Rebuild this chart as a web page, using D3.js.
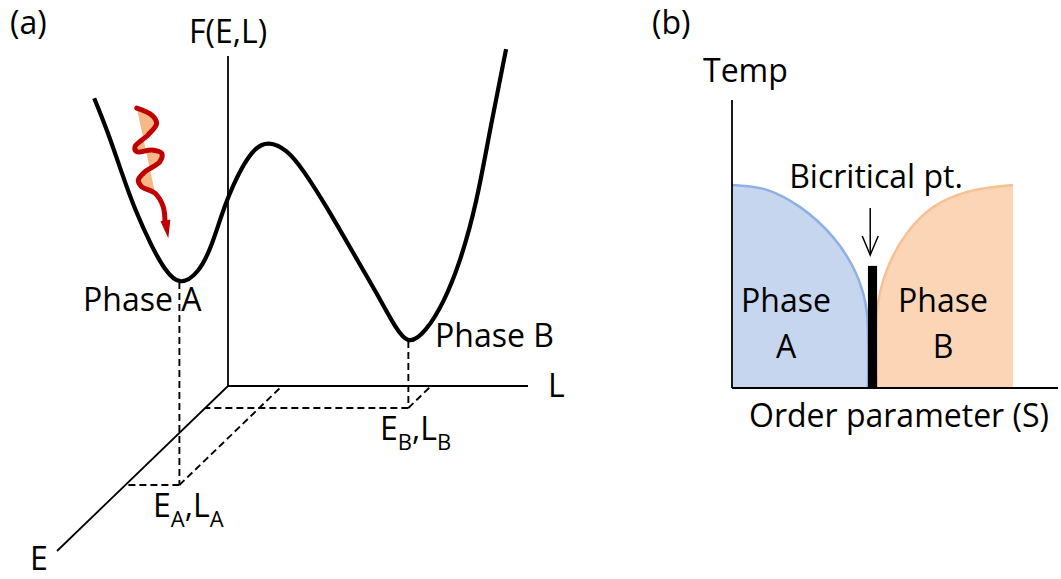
<!DOCTYPE html>
<html>
<head>
<meta charset="utf-8">
<script src="https://cdn.jsdelivr.net/npm/d3@7"></script>
<style>
  body { margin: 0; background: #fff; }
  text { font-family: "Open Sans", sans-serif; font-size: 32px; fill: #000; }
</style>
</head>
<body>
<div id="chart"></div>
<script>
// ---- panel (a): free energy F(E,L) sketch ----
// curve drawn in the E = 0 plane, values in (L, F) units
const curveL = [-4.46, -3.99, -3.54, -3.10, -2.54, -2.10, -1.62, -0.99, -0.54, -0.10, 0.46, 0.90, 1.34, 1.96, 2.51, 3.29, 4.18, 4.96, 5.51, 6.01, 6.62, 7.18, 7.73, 8.29, 8.73, 9.27];
const curveF = [8.72, 7.66, 6.45, 5.33, 4.22, 3.50, 3.04, 3.40, 4.22, 5.54, 6.65, 7.22, 7.42, 7.17, 6.55, 5.43, 4.02, 2.81, 1.88, 1.20, 1.68, 2.51, 3.72, 5.54, 7.76, 10.21];

// the two minima in (E, L, F)
const phaseNames = ["A", "B"];
const phaseE = [6.0, 1.33];
const phaseL = [1.8, 6.77];
const phaseF = [6.15, 2.03];

// red "kick" squiggle, (L, F) units
const kickL = [-3.04, -2.54, -2.38, -2.66, -3.10, -3.04, -2.54, -2.21, -2.27, -2.77, -2.99, -2.88, -2.43, -2.16, -2.10];
const kickF = [8.42, 8.21, 7.96, 7.61, 7.25, 7.10, 7.15, 7.05, 6.80, 6.49, 6.24, 6.04, 5.84, 5.43, 4.93];
const kickTip = [-1.99, 4.48];

// ---- panel (b): phase diagram, order parameter S vs temperature ----
const phaseAS = [0, 0.107, 0.209, 0.310, 0.371, 0.402, 0.414, 0.417];
const phaseAT = [0.705, 0.688, 0.628, 0.524, 0.420, 0.330, 0.260, 0];
const phaseBS = [0.445, 0.445, 0.475, 0.537, 0.617, 0.721, 0.862];
const phaseBT = [0, 0.271, 0.410, 0.538, 0.628, 0.681, 0.705];
const bicritS = [0.417, 0.445];
const bicritT = 0.424;
const arrowS = 0.424;
const arrowT = [0.625, 0.462];

const W = 1061, H = 579;
const svg = d3.select("#chart").append("svg")
    .attr("width", W).attr("height", H);

// oblique projection of (E, L, F)
const origin = [228, 386];
const sL = d3.scaleLinear().domain([0, 10]).range([0, 300]);
const sF = d3.scaleLinear().domain([0, 10]).range([0, -330]);
const sEx = d3.scaleLinear().domain([0, 10]).range([0, -171]);
const sEy = d3.scaleLinear().domain([0, 10]).range([0, 165]);
function project(E, L, F) {
    return [origin[0] + sL(L) + sEx(E), origin[1] + sF(F) + sEy(E)];
}

const a = svg.append("g");

// axes
[[10, 0, 0], [0, 10, 0], [0, 0, 10]].forEach(p => {
    const o = project(0, 0, 0), e = project(...p);
    a.append("line")
        .attr("x1", o[0]).attr("y1", o[1]).attr("x2", e[0]).attr("y2", e[1])
        .attr("stroke", "#000").attr("stroke-width", 1.8);
});

// dashed guides down to the E-L plane
phaseNames.forEach((n, i) => {
    const top = project(phaseE[i], phaseL[i], phaseF[i]);
    const base = project(phaseE[i], phaseL[i], 0);
    const onE = project(phaseE[i], 0, 0);
    const onL = project(0, phaseL[i], 0);
    [[top, base], [base, onE], [base, onL]].forEach(([p, q]) => {
        a.append("line")
            .attr("x1", p[0]).attr("y1", p[1]).attr("x2", q[0]).attr("y2", q[1])
            .attr("stroke", "#000").attr("stroke-width", 1.9)
            .attr("stroke-dasharray", "7,4");
    });
});

// free energy curve
const curvePts = curveL.map((l, i) => project(0, l, curveF[i]));
a.append("path")
    .attr("d", d3.line().curve(d3.curveBasis)(curvePts))
    .attr("fill", "none").attr("stroke", "#000").attr("stroke-width", 4.2);

// squiggle with orange wedge
const kickPts = kickL.map((l, i) => project(0, l, kickF[i]));
a.append("path")
    .attr("d", d3.line().curve(d3.curveCatmullRom)(kickPts.slice(0, 13)) + "Z")
    .attr("fill", "#f7b887").attr("stroke", "none");
a.append("path")
    .attr("d", d3.line().curve(d3.curveCatmullRom)(kickPts))
    .attr("fill", "none").attr("stroke", "#c00000").attr("stroke-width", 5)
    .attr("stroke-linecap", "round").attr("stroke-linejoin", "round");
{
    const tip = project(0, kickTip[0], kickTip[1]);
    const back = kickPts[kickPts.length - 2];
    const dx = tip[0] - back[0], dy = tip[1] - back[1];
    const len = Math.hypot(dx, dy), ux = dx / len, uy = dy / len;
    const bx = tip[0] - ux * 18, by = tip[1] - uy * 18;
    a.append("polygon")
        .attr("points", [[bx - uy * 5, by + ux * 5], tip, [bx + uy * 5, by - ux * 5]].join(" "))
        .attr("fill", "#c00000");
}

// labels
a.append("text").attr("x", 10).attr("y", 34).text("(a)");
a.append("text").attr("x", 228).attr("y", 43).attr("text-anchor", "middle").text("F(E,L)");
a.append("text").attr("x", 548).attr("y", 397).text("L");
a.append("text").attr("x", 30).attr("y", 570).text("E");
a.append("text").attr("x", 83).attr("y", 311).text("Phase A");
a.append("text").attr("x", 435).attr("y", 347).text("Phase B");

function subLabel(x, y, n) {
    const t = a.append("text").attr("x", x).attr("y", y);
    t.append("tspan").text("E");
    t.append("tspan").attr("dy", 10).style("font-size", "22px").text(n);
    t.append("tspan").attr("dy", -10).text(",L");
    t.append("tspan").attr("dy", 10).style("font-size", "22px").text(n);
}
subLabel(153, 517, "A");
subLabel(380, 440, "B");

// ---- panel (b) ----
const b = svg.append("g");
const x = d3.scaleLinear().domain([0, 1]).range([732, 1058]);
const y = d3.scaleLinear().domain([0, 1]).range([388, 100]);
const bLine = d3.line().x(d => x(d[0])).y(d => y(d[1])).curve(d3.curveCatmullRom);

const aPts = phaseAS.map((s, i) => [s, phaseAT[i]]);
const bPts = phaseBS.map((s, i) => [s, phaseBT[i]]);

b.append("path")
    .attr("d", bLine(aPts) + `L${x(0)},${y(0)}Z`)
    .attr("fill", "#c6d6ee");
b.append("path")
    .attr("d", bLine(aPts))
    .attr("fill", "none").attr("stroke", "#8eb0e2").attr("stroke-width", 2.5);

b.append("path")
    .attr("d", bLine(bPts) + `L${x(phaseBS[phaseBS.length - 1])},${y(0)}Z`)
    .attr("fill", "#fbd5b6");
b.append("path")
    .attr("d", bLine(bPts))
    .attr("fill", "none").attr("stroke", "#f8c193").attr("stroke-width", 2.5);

// bicritical bar
b.append("rect")
    .attr("x", x(bicritS[0])).attr("width", x(bicritS[1]) - x(bicritS[0]))
    .attr("y", y(bicritT)).attr("height", y(0) - y(bicritT))
    .attr("fill", "#000");

// axes
b.append("line").attr("x1", x(0)).attr("x2", x(0)).attr("y1", y(0)).attr("y2", y(1))
    .attr("stroke", "#000").attr("stroke-width", 1.8);
b.append("line").attr("x1", x(0)).attr("x2", x(1)).attr("y1", y(0)).attr("y2", y(0))
    .attr("stroke", "#000").attr("stroke-width", 1.8);

// arrow to bicritical point
b.append("line")
    .attr("x1", x(arrowS)).attr("x2", x(arrowS)).attr("y1", y(arrowT[0])).attr("y2", y(arrowT[1]))
    .attr("stroke", "#000").attr("stroke-width", 1.5);
b.append("polyline")
    .attr("points", [[x(arrowS) - 8, y(arrowT[1]) - 19], [x(arrowS), y(arrowT[1])], [x(arrowS) + 8, y(arrowT[1]) - 19]].join(" "))
    .attr("fill", "none").attr("stroke", "#000").attr("stroke-width", 1.5);

b.append("text").attr("x", 652).attr("y", 34).text("(b)");
b.append("text").attr("x", 703).attr("y", 82).text("Temp");
b.append("text").attr("x", 876).attr("y", 188).attr("text-anchor", "middle").text("Bicritical pt.");
b.append("text").attr("x", 749).attr("y", 427).text("Order parameter (S)");
[["A", 786], ["B", 943]].forEach(([n, cx]) => {
    b.append("text").attr("x", cx).attr("y", 312).attr("text-anchor", "middle").text("Phase");
    b.append("text").attr("x", cx).attr("y", 358).attr("text-anchor", "middle").text(n);
});
</script>
</body>
</html>
